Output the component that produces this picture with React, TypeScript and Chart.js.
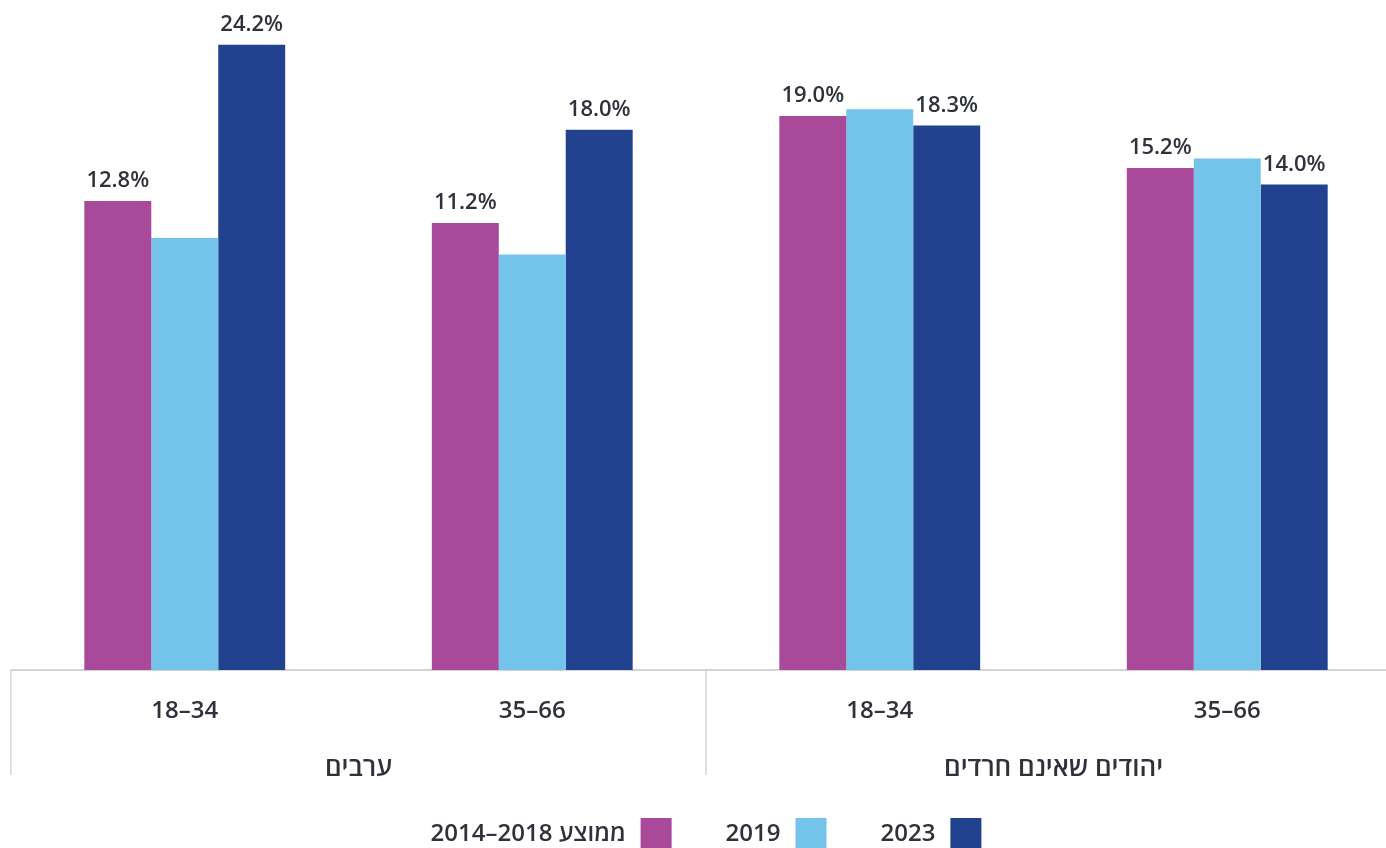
import React, { useEffect, useRef } from 'react';
import { Chart, registerables } from 'chart.js';

Chart.register(...registerables);

// ---- data ----
const AGE_LABELS = ['18–34', '35–66', '18–34', '35–66'];
const GROUP_LABELS = ['ערבים', 'יהודים שאינם חרדים'];
const SERIES_NAMES = ['ממוצע \u20662014–2018\u2069', '2019', '2023'];
const AVG_2014_2018 = [12.8, 11.2, 19.0, 15.2];
const VALUES_2019 = [10.1, 8.9, 19.5, 15.9];
const VALUES_2023 = [24.2, 18.0, 18.3, 14.0];
const SHOW_VALUE_LABELS = [true, false, true];
const COLORS = ['#A8499A', '#74C3EB', '#22418F'];
const Y_MIN = -21.4;
const Y_MAX = 26.0;

// ---- style ----
const W = 1412;
const H = 848;
const FONT = '"Open Sans", "Liberation Sans", "DejaVu Sans", sans-serif';
const TEXT = '#2F323A';
const LINE = '#d4d4d4';
const WEIGHT = '600';

const valueLabels = {
  id: 'valueLabels',
  afterDatasetsDraw(chart: any) {
    const { ctx } = chart;
    ctx.save();
    ctx.font = `${WEIGHT} 22px ${FONT}`;
    ctx.fillStyle = TEXT;
    ctx.textAlign = 'center';
    ctx.textBaseline = 'alphabetic';
    chart.data.datasets.forEach((ds: any, i: number) => {
      if (!SHOW_VALUE_LABELS[i]) return;
      const meta = chart.getDatasetMeta(i);
      meta.data.forEach((el: any, j: number) => {
        const v = ds.data[j] as number;
        ctx.fillText(v.toFixed(1) + '%', el.x, el.y - 14);
      });
    });
    ctx.restore();
  },
};

const separators = {
  id: 'separators',
  afterDraw(chart: any) {
    const { ctx, chartArea } = chart;
    const sx = chart.scales.x;
    const mid = (sx.getPixelForValue(1) + sx.getPixelForValue(2)) / 2;
    ctx.save();
    ctx.strokeStyle = LINE;
    ctx.lineWidth = 1.5;
    [chartArea.left, mid, chartArea.right].forEach((x: number) => {
      ctx.beginPath();
      ctx.moveTo(x, chartArea.bottom);
      ctx.lineTo(x, 775);
      ctx.stroke();
    });
    ctx.restore();
  },
};

const bottomLegend = {
  id: 'bottomLegend',
  afterDraw(chart: any) {
    const { ctx } = chart;
    const datasets = chart.data.datasets;
    const box = 31;
    const boxH = 30;
    const gapText = 15;
    const gapItem = 54;
    ctx.save();
    ctx.font = `${WEIGHT} 24px ${FONT}`;
    ctx.direction = 'rtl';
    const widths = datasets.map((d: any) => ctx.measureText(d.label).width);
    let total = 0;
    widths.forEach((w: number, i: number) => {
      total += w + gapText + box + (i < widths.length - 1 ? gapItem : 0);
    });
    let x = chart.width / 2 - total / 2;
    const boxTop = 818;
    const cy = boxTop + boxH / 2;
    datasets.forEach((d: any, i: number) => {
      ctx.fillStyle = TEXT;
      ctx.direction = 'rtl';
      ctx.textAlign = 'right';
      ctx.textBaseline = 'middle';
      ctx.fillText(d.label, x + widths[i], cy + 1);
      x += widths[i] + gapText;
      ctx.fillStyle = d.backgroundColor;
      ctx.fillRect(x, boxTop, box, boxH);
      x += box + gapItem;
    });
    ctx.restore();
  },
};

export default function App() {
  const ref = useRef<HTMLCanvasElement>(null);
  useEffect(() => {
    document.documentElement.style.overflow = 'hidden';
    document.body.style.overflow = 'hidden';
    document.body.style.margin = '0';
    const canvas = ref.current!;
    const seriesValues = [AVG_2014_2018, VALUES_2019, VALUES_2023];
    const chart = new Chart(canvas, {
      type: 'bar',
      data: {
        labels: AGE_LABELS,
        datasets: SERIES_NAMES.map((name, i) => ({
          label: name,
          data: seriesValues[i],
          backgroundColor: COLORS[i],
          borderWidth: 0,
          base: Y_MIN,
          categoryPercentage: 0.578,
          barPercentage: 1,
        })) as any,
      },
      options: {
        responsive: false,
        animation: false,
        layout: { padding: { top: 20, left: 11, right: 11, bottom: 64 } },
        plugins: {
          legend: { display: false },
          tooltip: { enabled: false },
        },
        scales: {
          x: {
            type: 'category',
            position: 'bottom',
            weight: 0,
            grid: { display: false, drawTicks: false, tickLength: 0 },
            border: { display: true, color: LINE, width: 2 },
            ticks: {
              font: { family: FONT, size: 24, weight: WEIGHT },
              color: TEXT,
              padding: 27,
              autoSkip: false,
              maxRotation: 0,
            },
          },
          x2: {
            type: 'category',
            labels: GROUP_LABELS,
            position: 'bottom',
            offset: true,
            weight: 1,
            grid: { display: false, drawTicks: false, tickLength: 0 },
            border: { display: false },
            ticks: {
              font: { family: FONT, size: 26, weight: WEIGHT },
              color: TEXT,
              padding: 0,
              autoSkip: false,
              maxRotation: 0,
            },
          },
          y: { display: false, min: Y_MIN, max: Y_MAX },
        },
      } as any,
      plugins: [valueLabels, separators, bottomLegend],
    });
    return () => chart.destroy();
  }, []);
  return (
    <div style={{ position: 'absolute', left: 0, top: 0, width: W, height: H, background: '#fff' }}>
      <canvas ref={ref} width={W} height={H} style={{ display: 'block' }} />
    </div>
  );
}
